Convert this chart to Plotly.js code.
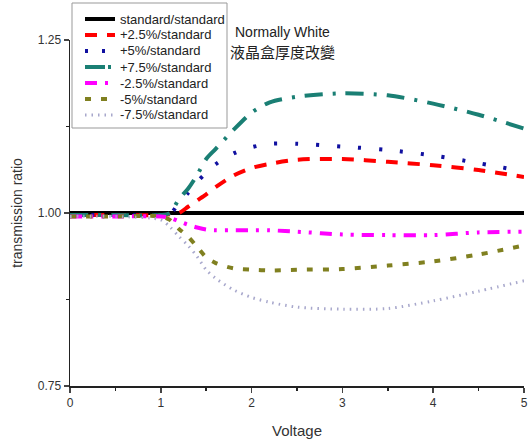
<!DOCTYPE html>
<html><head><meta charset="utf-8">
<script src="https://cdn.plot.ly/plotly-3.0.1.min.js"></script>
<style>html,body{margin:0;padding:0;background:#fff}#c{width:528px;height:445px}</style>
</head><body><div id="c"></div>
<script>
const voltage = [0, 0.5, 1.0, 1.1, 1.2, 1.3, 1.4, 1.5, 1.6, 1.8, 2.0, 2.2, 2.5, 3.0, 3.5, 4.0, 4.5, 5.0];
const seriesNames = ["standard/standard","+2.5%/standard","+5%/standard","+7.5%/standard","-2.5%/standard","-5%/standard","-7.5%/standard"];
const standard = [1.0,1.0,1.0,1.0,1.0,1.0,1.0,1.0,1.0,1.0,1.0,1.0,1.0,1.0,1.0,1.0,1.0,1.0];
const plus25  = [0.997,0.997,0.997,0.998,1.000,1.009,1.018,1.027,1.037,1.054,1.065,1.071,1.077,1.078,1.074,1.069,1.062,1.052];
const plus5   = [0.997,0.997,0.997,0.998,1.015,1.029,1.045,1.058,1.070,1.086,1.095,1.100,1.100,1.096,1.091,1.083,1.072,1.060];
const plus75  = [0.997,0.997,0.997,1.000,1.020,1.035,1.055,1.078,1.092,1.120,1.145,1.160,1.168,1.173,1.170,1.158,1.142,1.122];
const minus25 = [0.995,0.995,0.995,0.993,0.988,0.983,0.979,0.976,0.975,0.975,0.975,0.975,0.973,0.969,0.968,0.968,0.972,0.973];
const minus5  = [0.995,0.995,0.995,0.990,0.977,0.966,0.951,0.936,0.928,0.920,0.918,0.917,0.918,0.919,0.924,0.930,0.940,0.953];
const minus75 = [0.995,0.995,0.990,0.980,0.966,0.953,0.937,0.918,0.906,0.889,0.878,0.871,0.864,0.861,0.862,0.873,0.887,0.902];
const xTicks = [0,1,2,3,4,5];
const yTicks = [0.75,1.00,1.25];

const ys = [standard, plus25, plus5, plus75, minus25, minus5, minus75];
const styles = [
  {color:'#000000', width:4, dash:'solid'},
  {color:'#ff0000', width:4, dash:'12px,10px'},
  {color:'#1010a0', width:4, dash:'3px,18px'},
  {color:'#1a7f74', width:4, dash:'18px,10px,3px,10px'},
  {color:'#ff00ff', width:4, dash:'12px,8px,3px,8px,3px,8px'},
  {color:'#808020', width:4, dash:'6px,10px'},
  {color:'#a8a8cc', width:3, dash:'1.5px,5px'}
];
const traces = ys.map((y,i)=>({
  x: voltage, y: y, name: seriesNames[i], type:'scatter', mode:'lines', showlegend:false,
  line: Object.assign({shape:'spline', smoothing:0.8}, styles[i])
}));

// legend built in paper coordinates (plot area: 454 x 346 px)
const PW = 454, PH = 346;
const px = v => v / PW, py = v => 1 - v / PH; // offsets from plot top-left (px)
const shapes = [{type:'rect', xref:'paper', yref:'paper', layer:'above',
  x0:px(2), x1:px(157), y0:py(88), y1:py(-37),
  line:{color:'#999', width:1}, fillcolor:'#fff'}];
const annotations = [];
seriesNames.forEach((n,i)=>{
  const yc = -21 + 16*i;
  const st = styles[i];
  shapes.push({type:'line', xref:'paper', yref:'paper', layer:'above',
    x0:px(15), x1:px(45), y0:py(yc), y1:py(yc),
    line:{color:st.color, width:st.width, dash: i===2 ? '3px,14px' : (i===3 ? '20px,3px,3px,4px' : st.dash)}});
  annotations.push({text:n, xref:'paper', yref:'paper', x:px(48), y:py(yc), xanchor:'left', yanchor:'middle',
    showarrow:false, font:{size:13, color:'#222'}});
});
annotations.push(
  {text:'Normally White', xref:'paper', yref:'paper', x:0.467, y:1.023, xanchor:'center', yanchor:'middle', showarrow:false,
   font:{size:14, color:'#222'}},
  {text:'液晶盒厚度改變', xref:'paper', yref:'paper', x:0.467, y:0.968, xanchor:'center', yanchor:'middle', showarrow:false,
   font:{size:15, color:'#222', family:'Noto Sans CJK TC'}}
);

const layout = {
  width:528, height:445,
  margin:{l:70, r:4, t:40, b:59},
  paper_bgcolor:'#fff', plot_bgcolor:'#fff',
  font:{family:'Liberation Sans, Arial, sans-serif', color:'#333'},
  showlegend:false,
  xaxis:{range:[0,5], tickvals:xTicks, ticktext:xTicks.map(String), ticks:'outside', ticklen:5, tickwidth:1.5,
         showline:true, linecolor:'#222', linewidth:1.5, showgrid:false, zeroline:false,
         tickfont:{size:12, color:'#333'},
         minor:{dtick:0.5, ticks:'outside', ticklen:3, tickcolor:'#222', showgrid:false},
         title:{text:'Voltage', font:{size:15, color:'#333'}, standoff:16}},
  yaxis:{range:[0.75,1.25], tickvals:yTicks, ticktext:yTicks.map(v=>v.toFixed(2)), ticks:'outside', ticklen:5, tickwidth:1.5,
         showline:true, linecolor:'#222', linewidth:1.5, showgrid:false, zeroline:false,
         tickfont:{size:12, color:'#333'},
         minor:{dtick:0.125, ticks:'outside', ticklen:3, tickcolor:'#222', showgrid:false},
         title:{text:'transmission ratio', font:{size:14, color:'#333'}, standoff:12}},
  shapes: shapes,
  annotations: annotations
};
Plotly.newPlot('c', traces, layout, {displayModeBar:false, staticPlot:true});
</script></body></html>
